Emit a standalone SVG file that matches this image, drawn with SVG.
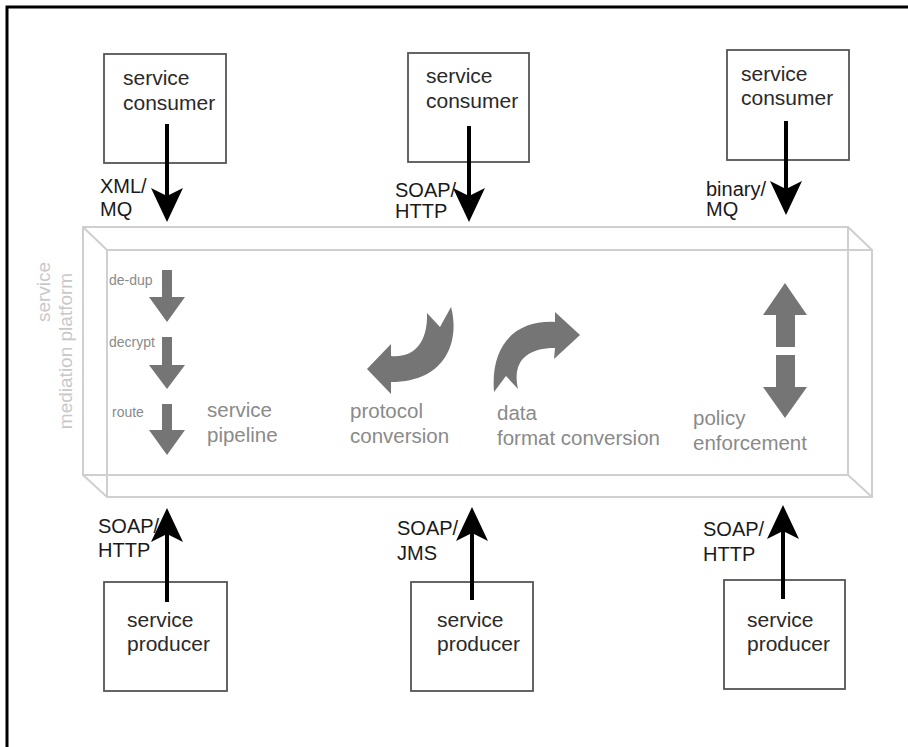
<svg xmlns="http://www.w3.org/2000/svg" width="908" height="747" viewBox="0 0 908 747">
<style>
.frame{fill:none;stroke:#000;stroke-width:3}
.box{fill:#fff;stroke:#555;stroke-width:1.8}
.bt{font-family:"Liberation Sans",Arial,sans-serif;font-size:21px;fill:#2a2a2a}
.lbl{font-family:"Liberation Sans",Arial,sans-serif;font-size:20px;fill:#1a1a1a}
.plat{fill:none;stroke:#cfcfcf;stroke-width:2}
.gt{font-family:"Liberation Sans",Arial,sans-serif;font-size:20.5px;fill:#8a8a8a}
.st{font-family:"Liberation Sans",Arial,sans-serif;font-size:14px;fill:#8a8a8a}
.rt{font-family:"Liberation Sans",Arial,sans-serif;font-size:19px;fill:#c8c8c8}
.ga{fill:#757575}
.conn{stroke:#000;stroke-width:4;fill:none;marker-end:url(#head)}
</style>
<defs>
<marker id="head" markerUnits="userSpaceOnUse" markerWidth="34" markerHeight="32" refX="8" refY="16" orient="auto" overflow="visible">
<path d="M0,0 L34,16 L0,32 L8,16 Z" fill="#000"/>
</marker>
</defs>
<rect x="0" y="0" width="908" height="747" fill="#fff"/>
<rect class="frame" x="7" y="7" width="910" height="760"/>

<g id="platform">
<rect class="plat" x="83" y="227" width="765" height="248"/>
<rect class="plat" x="107" y="250" width="765" height="247"/>
<path class="plat" d="M83,227 L107,250 M848,227 L872,250 M83,475 L107,497 M848,475 L872,497"/>
<text class="rt" transform="translate(50,292) rotate(-90)" text-anchor="middle">service</text>
<text class="rt" transform="translate(72,351) rotate(-90)" text-anchor="middle">mediation platform</text>
</g>

<g id="service-pipeline">
<path class="ga" d="M162,270 H172 V297 H185 L167,322 L149,297 H162 Z"/>
<path class="ga" d="M162,337 H172 V365 H185 L167,389 L149,365 H162 Z"/>
<path class="ga" d="M162,404 H172 V430 H185 L167,455 L149,430 H162 Z"/>
<text class="st" x="109" y="285">de-dup</text>
<text class="st" x="109" y="347">decrypt</text>
<text class="st" x="112" y="417">route</text>
<text class="gt" x="207" y="417">service</text>
<text class="gt" x="207" y="442">pipeline</text>
</g>

<g id="protocol-conversion">
<path class="ga" d="M367,369 L391,344 L391,356 C412,358 428,345 427,313 L440,327 L451,307 C460,340 447,382 391,382 L391,394 Z"/>
<text class="gt" x="350" y="418">protocol</text>
<text class="gt" x="350" y="443">conversion</text>
</g>

<g id="data-format-conversion">
<path class="ga" d="M580,335 L555,312 L555,322 C520,320 490,340 494,392 L506,376 L518,389 C512,362 526,348 555,348 L554,359 Z"/>
<text class="gt" x="497" y="420">data</text>
<text class="gt" x="497" y="445">format conversion</text>
</g>

<g id="policy-enforcement">
<path class="ga" d="M785,283 L807,315 H795 V347 H776 V315 H763 Z"/>
<path class="ga" d="M776,355 H795 V387 H807 L785,418 L763,387 H776 Z"/>
<text class="gt" x="693" y="425">policy</text>
<text class="gt" x="693" y="450">enforcement</text>
</g>

<g id="consumer1">
<rect class="box" x="104" y="54" width="122" height="109"/>
<text class="bt" x="123" y="85">service</text>
<text class="bt" x="123" y="110">consumer</text>
</g>
<g id="consumer2">
<rect class="box" x="408" y="53" width="121" height="109"/>
<text class="bt" x="426" y="83">service</text>
<text class="bt" x="426" y="108">consumer</text>
</g>
<g id="consumer3">
<rect class="box" x="727" y="50" width="122" height="110"/>
<text class="bt" x="741" y="81">service</text>
<text class="bt" x="741" y="105">consumer</text>
</g>

<g id="producer1">
<rect class="box" x="104" y="582" width="123" height="109"/>
<text class="bt" x="127" y="627">service</text>
<text class="bt" x="127" y="651">producer</text>
</g>
<g id="producer2">
<rect class="box" x="411" y="582" width="122" height="109"/>
<text class="bt" x="437" y="627">service</text>
<text class="bt" x="437" y="651">producer</text>
</g>
<g id="producer3">
<rect class="box" x="724" y="580" width="121" height="109"/>
<text class="bt" x="747" y="627">service</text>
<text class="bt" x="747" y="651">producer</text>
</g>

<g id="connectors">
<line class="conn" x1="167" y1="124" x2="167" y2="196"/>
<line class="conn" x1="469" y1="126" x2="469" y2="196"/>
<line class="conn" x1="786" y1="121" x2="786" y2="189"/>
<line class="conn" x1="167" y1="602" x2="167" y2="534"/>
<line class="conn" x1="472" y1="600" x2="472" y2="533"/>
<line class="conn" x1="783" y1="599" x2="783" y2="531"/>
<text class="lbl" x="100" y="193">XML/</text>
<text class="lbl" x="100" y="216">MQ</text>
<text class="lbl" x="395" y="197">SOAP/</text>
<text class="lbl" x="395" y="218">HTTP</text>
<text class="lbl" x="706" y="196">binary/</text>
<text class="lbl" x="706" y="216">MQ</text>
<text class="lbl" x="98" y="533">SOAP/</text>
<text class="lbl" x="98" y="557">HTTP</text>
<text class="lbl" x="397" y="535">SOAP/</text>
<text class="lbl" x="397" y="560">JMS</text>
<text class="lbl" x="703" y="536">SOAP/</text>
<text class="lbl" x="703" y="561">HTTP</text>
</g>
</svg>
